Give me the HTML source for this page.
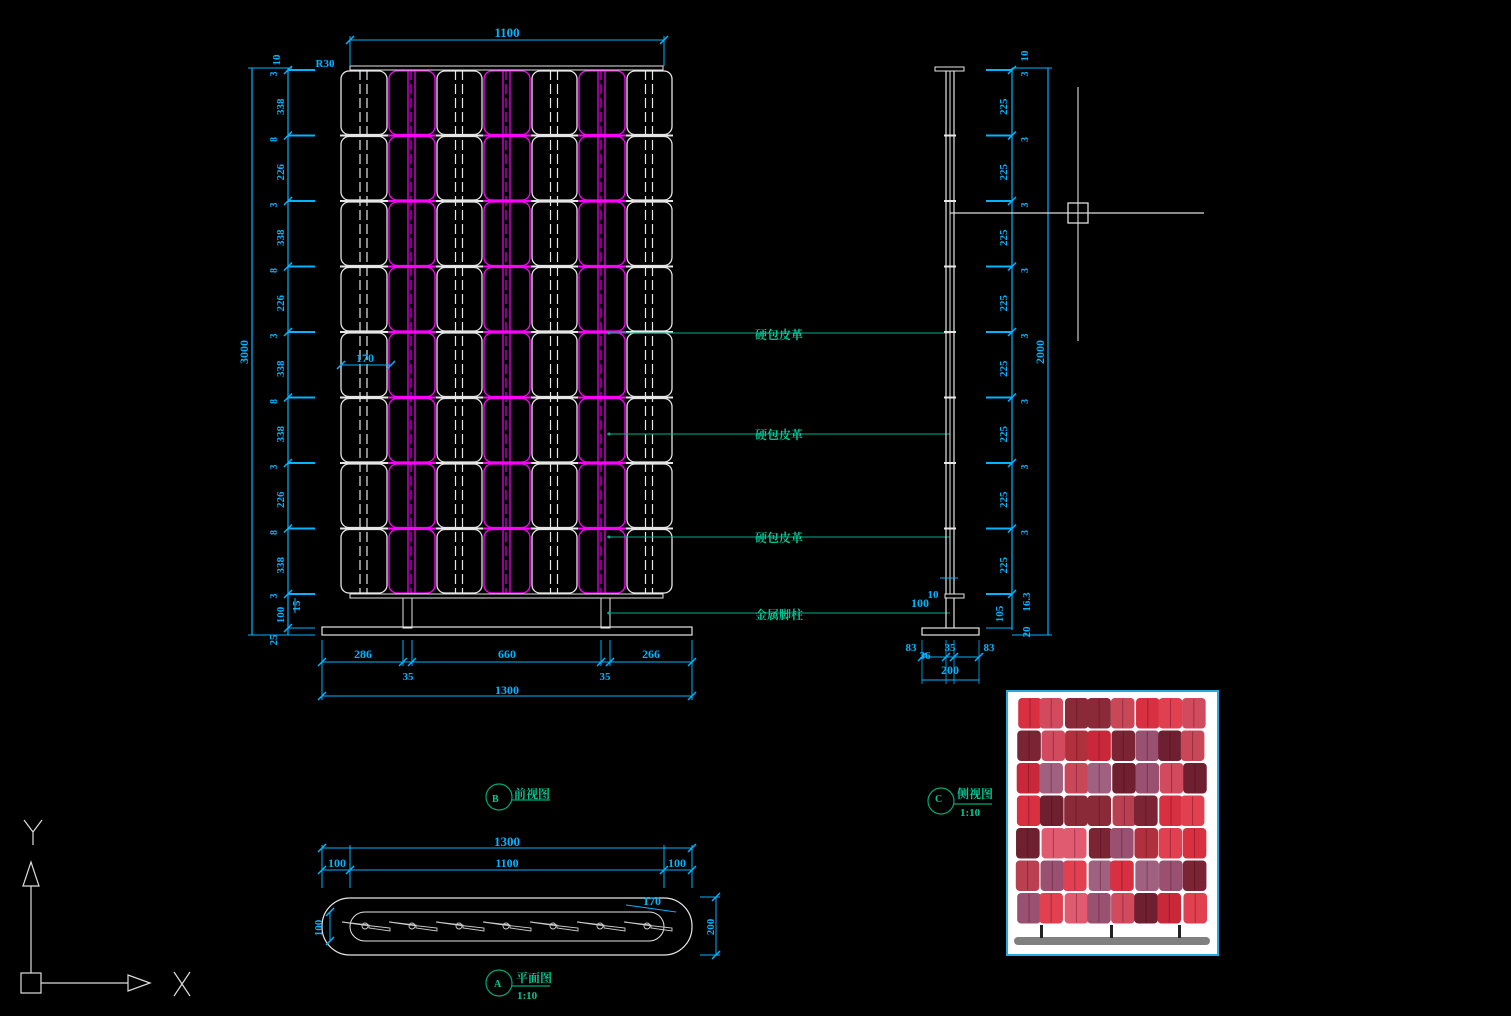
<!DOCTYPE html>
<html><head><meta charset="utf-8"><style>
html,body{margin:0;padding:0;background:#000;}
svg{display:block}
text{font-family:"Liberation Serif","Noto Serif CJK SC",serif;font-weight:bold}
</style></head><body>
<svg id="s" width="1511" height="1016" viewBox="0 0 1511 1016" xmlns="http://www.w3.org/2000/svg">
<rect width="1511" height="1016" fill="#000"/>
<g id="g"></g>
<g fill="#00c896" font-size="12" stroke="none">
<text x="755" y="339">硬包皮革</text>
<text x="755" y="439">硬包皮革</text>
<text x="755" y="542">硬包皮革</text>
<text x="755" y="619">金属脚柱</text>
<text x="514" y="798">前视图</text>
<text x="957" y="798">侧视图</text>
<text x="960" y="816" font-size="11">1:10</text>
<text x="516" y="982">平面图</text>
<text x="517" y="999" font-size="11">1:10</text>
<text x="492" y="802" font-size="10">B</text>
<text x="935" y="802" font-size="10">C</text>
<text x="494" y="987" font-size="10">A</text>
</g>
<g fill="none" stroke="#00a878" stroke-width="1.2">
<circle cx="499" cy="797" r="13"/><line x1="512" y1="800" x2="550" y2="800"/>
<circle cx="941" cy="801" r="13"/><line x1="954" y1="804" x2="992" y2="804"/>
<circle cx="499" cy="983" r="13"/><line x1="512" y1="986" x2="550" y2="986"/>
</g>
<g fill="none" stroke="#ddd" stroke-width="1.2">
<rect x="21" y="973" width="20" height="20"/>
<line x1="31" y1="973" x2="31" y2="886"/>
<line x1="41" y1="983" x2="128" y2="983"/>
<polygon points="31,862 23,886 39,886"/>
<polygon points="150,983 128,975 128,991"/>
<path d="M24 820 L33 832 L42 820 M33 832 V845"/>
<path d="M174 972 L190 996 M190 972 L174 996"/>
</g>
<rect x="1007" y="691" width="211" height="264" fill="#fff" stroke="#29a9e0" stroke-width="2"/>
<g id="ph"></g>
</svg>
<script>
const NS="http://www.w3.org/2000/svg";
const g=document.getElementById('g');
function el(t,a,p){const e=document.createElementNS(NS,t);for(const k in a)e.setAttribute(k,a[k]);(p||g).appendChild(e);return e;}
function L(x1,y1,x2,y2,c,w,d){const a={x1,y1,x2,y2,stroke:c,'stroke-width':w||1};if(d)a['stroke-dasharray']=d;el('line',a);}
function T(x,y,s,c,sz,rot){const a={x,y,fill:c,'font-size':sz||11,'text-anchor':'middle'};if(rot)a.transform=`rotate(-90 ${x} ${y})`;const e=el('text',a);e.textContent=s;}
const W='#e6e6e6',M='#ff00ff',C='#00b4ff',G='#00b088';
const cols=[340,388,436,483,531,578,626,673];
const rows=[70,135.5,201,266.5,332,397.5,463,528.5,594];
for(let c=0;c<7;c++){const mg=(c%2==1);const col=mg?M:W;
 for(let r=0;r<8;r++){el('rect',{x:cols[c]+1,y:rows[r]+1,width:cols[c+1]-cols[c]-2,height:rows[r+1]-rows[r]-2,rx:8,fill:'none',stroke:col,'stroke-width':1.3});}
 const cx=(cols[c]+cols[c+1])/2;
 if(mg){L(cx-4,70,cx-4,594,M,1.2);L(cx+3,70,cx+3,594,M,1.2);L(cx-1,70,cx-1,594,M,1,'10 4');}
 else{L(cx-4,70,cx-4,594,W,1.2,'10 4');L(cx+3,70,cx+3,594,W,1.2,'10 4');}
}
for(let r=1;r<8;r++){L(340,rows[r],673,rows[r],W,2);for(let c of [1,3,5])L(cols[c],rows[r],cols[c+1],rows[r],M,2);}
el('rect',{x:350,y:66,width:313,height:4,fill:'none',stroke:W,'stroke-width':1});
el('rect',{x:350,y:594,width:313,height:4,fill:'none',stroke:W,'stroke-width':1});
el('rect',{x:403,y:598,width:9,height:30,fill:'none',stroke:W,'stroke-width':1});
el('rect',{x:601,y:598,width:9,height:30,fill:'none',stroke:W,'stroke-width':1});
el('rect',{x:322,y:627,width:370,height:8,fill:'none',stroke:W,'stroke-width':1.2});
function tick(x,y){L(x-4,y+4,x+4,y-4,C,1.5);}
L(350,40,664,40,C,1);tick(350,40);tick(664,40);L(350,36,350,66,C,1);L(664,36,664,66,C,1);T(507,37,'1100',C,13);
L(252,68,252,635,C,1.2);L(288,68,288,635,C,1.2);L(248,68,292,68,C,1);L(248,635,315,635,C,1);
T(248,352,'3000',C,12,1);
const rl=['338','226','338','226','338','338','226','338'];
for(let r=0;r<9;r++){L(288,rows[r],315,rows[r],C,2);tick(288,rows[r]);}
for(let r=0;r<8;r++){T(284,(rows[r]+rows[r+1])/2+4,rl[r],C,11,1);T(277,rows[r]+4,r%2?'8':'3',C,10,1);}
T(280,60,'10',C,11,1);T(277,596,'3',C,10,1);L(288,628,315,628,C,1);tick(288,628);
T(284,615,'100',C,11,1);T(277,640,'25',C,11,1);L(295,598,295,613,C,1);T(300,606,'15',C,11,1);
T(325,67,'R30',C,11);
L(341,365,391,365,C,1);tick(341,365);tick(391,365);T(365,362,'170',C,12);
L(322,662,692,662,C,1);L(322,696,692,696,C,1);
for(const x of [322,403,412,601,610,692]){L(x,640,x,666,C,1);tick(x,662);}
tick(322,696);tick(692,696);L(322,666,322,700,C,1);L(692,666,692,700,C,1);
T(363,658,'286',C,12);T(507,658,'660',C,12);T(651,658,'266',C,12);T(408,680,'35',C,11);T(605,680,'35',C,11);T(507,694,'1300',C,12);
for(const[y,x0] of [[333,607],[434,607],[537,607],[613,607]]){L(x0,y,950,y,G,1);el('circle',{cx:x0+2,cy:y,r:1.5,fill:G});}
el('rect',{x:935,y:67,width:29,height:4,fill:'none',stroke:W,'stroke-width':1});
L(946,71,946,594,W,1.2);L(950,71,950,594,W,1);L(954,71,954,594,W,1.2);
for(let r=1;r<8;r++)L(944,rows[r],956,rows[r],W,2);
el('rect',{x:945,y:594,width:19,height:4,fill:'none',stroke:W,'stroke-width':1});
L(946,598,946,628,W,1.2);L(954,598,954,628,W,1.2);
el('rect',{x:922,y:628,width:57,height:7,fill:'none',stroke:W,'stroke-width':1.2});
L(1012,68,1012,630,C,1.2);L(1048,68,1048,635,C,1.2);L(1012,68,1052,68,C,1);L(1012,635,1052,635,C,1);
for(let r=0;r<9;r++){L(986,rows[r],1012,rows[r],C,2);tick(1012,rows[r]);}
for(let r=0;r<8;r++){T(1007,(rows[r]+rows[r+1])/2+4,'225',C,11,1);T(1028,rows[r]+4,'3',C,10,1);}
T(1028,56,'10',C,11,1);T(1044,352,'2000',C,12,1);
L(986,628,1012,628,C,1);T(1003,614,'105',C,11,1);T(1030,602,'16.3',C,11,1);T(1030,632,'20',C,11,1);
T(920,607,'100',C,12);T(933,598,'10',C,11);L(940,578,958,578,C,1);
L(922,657,979,657,C,1);L(922,680,979,680,C,1);for(const x of [922,946,954,979]){L(x,640,x,684,C,.8);tick(x,657);}
T(911,651,'83',C,11);T(925,659,'36',C,11);T(950,651,'35',C,11);T(989,651,'83',C,11);T(950,674,'200',C,12);
L(1078,87,1078,341,'#bbb',1.3);L(950,213,1204,213,'#ddd',1.3);el('rect',{x:1068,y:203,width:20,height:20,fill:'none',stroke:'#ddd','stroke-width':1.3});
el('rect',{x:322,y:898,width:370,height:57,rx:28,fill:'none',stroke:W,'stroke-width':1.2});
el('rect',{x:350,y:912,width:314,height:29,rx:15,fill:'none',stroke:W,'stroke-width':1});
L(322,848,692,848,C,1);L(322,870,692,870,C,1);
for(const x of [322,350,664,692]){L(x,845,x,888,C,1);tick(x,870);}tick(322,848);tick(692,848);
T(507,846,'1300',C,13);T(507,867,'1100',C,12);T(337,867,'100',C,12);T(677,867,'100',C,12);
L(716,897,716,955,C,1);L(700,897,720,897,C,1);L(700,955,720,955,C,1);tick(716,897);tick(716,955);T(714,927,'200',C,11,1);
L(330,912,330,941,C,1);tick(330,912);tick(330,941);T(322,928,'100',C,11,1);
L(626,905,676,912,C,1);T(652,905,'170',C,12);
for(let i=0;i<7;i++){const x=342+i*47;el('path',{d:`M${x} 922 L${x+27} 925 L${x+27} 928 L${x+48} 931 L${x+48} 928 L${x+21} 925 Z`,fill:'none',stroke:'#ccc','stroke-width':.9});el('circle',{cx:x+23,cy:926,r:3,fill:'none',stroke:'#ccc','stroke-width':.9});}
const ph=document.getElementById('ph');
const pal=['#c8283a','#b0303e','#8a2a38','#d24a5e','#e05a70','#7a2434','#b84050','#9a5070','#d83040','#6e2030','#c84858','#a06080','#e04050'];
let seed=11;function rnd(){seed=(seed*9301+49297)%233280;return seed/233280;}
const px0=1017,py0=697,cw=23.6,rh=32.5;
for(let r=0;r<7;r++)for(let c=0;c<8;c++){
 const col=pal[Math.floor(rnd()*pal.length)];
 const ox=(rnd()-.5)*3;
 el('rect',{x:px0+c*cw+ox,y:py0+r*rh+1,width:cw,height:rh-2,rx:4,fill:col},ph);
 el('line',{x1:px0+c*cw+ox+cw/2,y1:py0+r*rh+2,x2:px0+c*cw+ox+cw/2,y2:py0+(r+1)*rh-2,stroke:'rgba(60,0,20,.35)','stroke-width':1},ph);
}
el('rect',{x:1014,y:937,width:196,height:8,rx:4,fill:'#808080'},ph);
for(const x of [1040,1110,1178])el('rect',{x,y:925,width:3,height:13,fill:'#222'},ph);
</script>
</body></html>
